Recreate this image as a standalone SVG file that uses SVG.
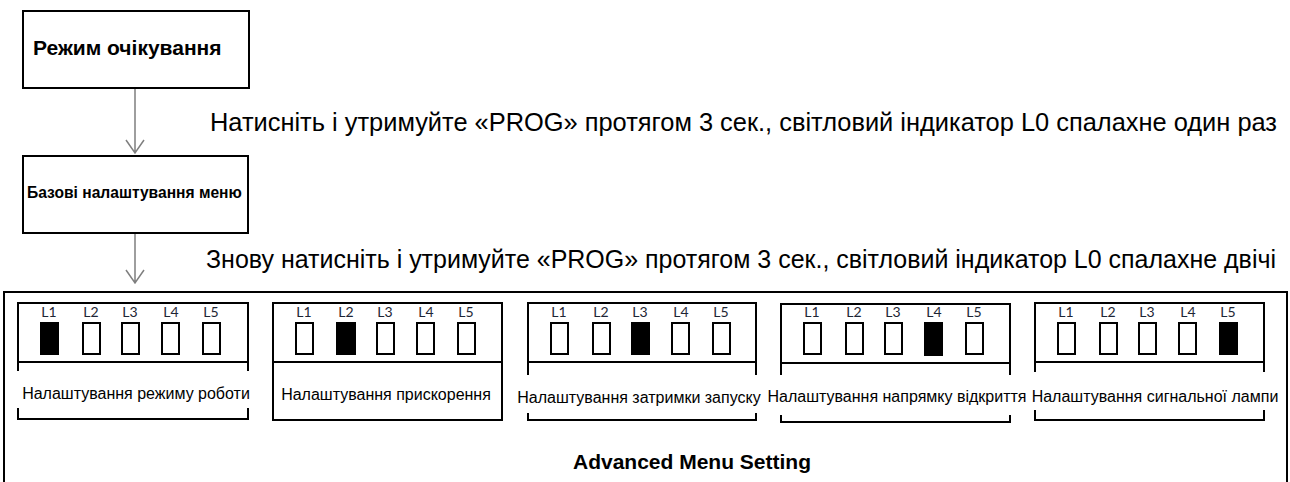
<svg xmlns="http://www.w3.org/2000/svg" width="1290" height="482" viewBox="0 0 1290 482">
<defs>
<style>
.box{fill:#fff;stroke:#000;stroke-width:2}
.pl{fill:none;stroke:#000;stroke-width:2}
.conn{stroke:#7f7f7f;stroke-width:1.5;fill:none}
.t{font-family:"Liberation Sans",Arial,sans-serif;fill:#000}
.b{font-weight:bold}
.pt{font-family:"Liberation Sans",Arial,sans-serif;font-size:16px;fill:#000;text-anchor:middle}
.lbl{font-family:Lato,"Liberation Sans",sans-serif;font-size:14px;fill:#1e2535;text-anchor:middle}
.led{fill:#fff;stroke:#000;stroke-width:2}
.on{fill:#000;stroke:#000;stroke-width:2}
</style>
<g id="leds">
<text class="lbl" x="31" y="317">L1</text>
<text class="lbl" x="73" y="317">L2</text>
<text class="lbl" x="112" y="317">L3</text>
<text class="lbl" x="153" y="317">L4</text>
<text class="lbl" x="193" y="317">L5</text>
<rect class="led" x="23" y="323" width="17" height="31"/>
<rect class="led" x="65" y="323" width="17" height="31"/>
<rect class="led" x="104" y="323" width="17" height="31"/>
<rect class="led" x="144" y="323" width="17" height="31"/>
<rect class="led" x="185" y="323" width="17" height="31"/>
</g>
</defs>
<g id="connectors">
<path class="conn" d="M135 88V153M126 140L135 153L144 140"/>
<path class="conn" d="M135 233V283M126 270L135 283L144 270"/>
</g>
<g id="standby">
<rect class="box" x="23" y="11" width="226" height="77"/>
<text class="t b" x="33" y="55" font-size="21">Режим очікування</text>
</g>
<g id="basic">
<rect class="box" x="23" y="156" width="225" height="77"/>
<text class="t b" x="27" y="198" font-size="15.6">Базові налаштування меню</text>
</g>
<text class="t" x="210" y="131" font-size="25" textLength="1067" lengthAdjust="spacingAndGlyphs">Натисніть і утримуйте «PROG» протягом 3 сек., світловий індикатор L0 спалахне один раз</text>
<text class="t" x="206" y="268" font-size="25" textLength="1070" lengthAdjust="spacingAndGlyphs">Знову натисніть і утримуйте «PROG» протягом 3 сек., світловий індикатор L0 спалахне двічі</text>
<g id="advanced">
<rect class="box" x="4" y="292" width="1283" height="200"/>
<text class="t b" x="692" y="469" font-size="21" text-anchor="middle">Advanced Menu Setting</text>
</g>
<g id="panel1">
<path class="pl" d="M18 371V303H248V371M18 362H248M18 408V419H248V408"/>
<use href="#leds" x="18"/>
<rect class="on" x="41" y="323" width="17" height="31"/>
<text class="pt" x="136" y="399">Налаштування режиму роботи</text>
</g>
<g id="panel2">
<rect class="pl" x="273" y="303" width="229" height="117"/>
<path class="pl" d="M273 362H502"/>
<use href="#leds" x="273"/>
<rect class="on" x="337" y="323" width="17" height="31"/>
<text class="pt" x="386" y="400">Налаштування прискорення</text>
</g>
<g id="panel3">
<path class="pl" d="M528 375V303H756V375M528 362H756M528 413V420H756V413"/>
<use href="#leds" x="528"/>
<rect class="on" x="632" y="323" width="17" height="31"/>
<text class="pt" x="639" y="403">Налаштування затримки запуску</text>
</g>
<g id="panel4">
<path class="pl" d="M781 375V304H1010V375M781 363H1010M781 415V422H1010V415"/>
<use href="#leds" x="781"/>
<rect class="on" x="925" y="324" width="17" height="31"/>
<text class="pt" x="897" y="402">Налаштування напрямку відкриття</text>
</g>
<g id="panel5">
<path class="pl" d="M1035 372V303H1264V372M1035 362H1264M1035 410V420H1264V410"/>
<use href="#leds" x="1035"/>
<rect class="on" x="1220" y="323" width="17" height="31"/>
<text class="pt" x="1155" y="402">Налаштування сигнальної лампи</text>
</g>
</svg>
